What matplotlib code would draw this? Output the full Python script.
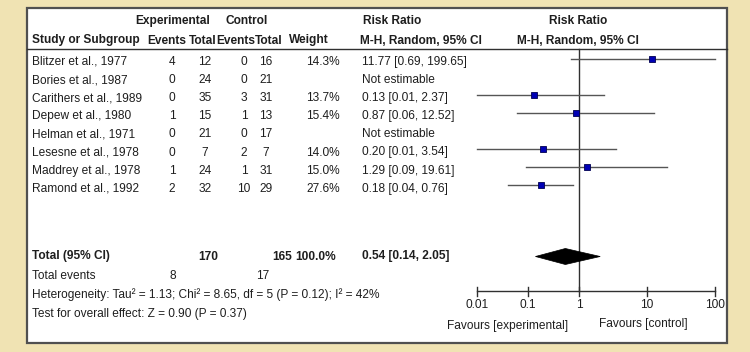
import numpy as np
import matplotlib
matplotlib.use("Agg")
import matplotlib.pyplot as plt
from matplotlib.patches import Rectangle, Polygon

# ---------------- data ----------------
studies = ["Blitzer et al., 1977", "Bories et al., 1987", "Carithers et al., 1989",
           "Depew et al., 1980", "Helman et al., 1971", "Lesesne et al., 1978",
           "Maddrey et al., 1978", "Ramond et al., 1992"]
exp_events = [4, 0, 0, 1, 0, 0, 1, 2]
exp_total = [12, 24, 35, 15, 21, 7, 24, 32]
ctl_events = [0, 0, 3, 1, 0, 2, 1, 10]
ctl_total = [16, 21, 31, 13, 17, 7, 31, 29]
weights = ["14.3%", "", "13.7%", "15.4%", "", "14.0%", "15.0%", "27.6%"]
rr = [11.77, np.nan, 0.13, 0.87, np.nan, 0.20, 1.29, 0.18]
rr_lo = [0.69, np.nan, 0.01, 0.06, np.nan, 0.01, 0.09, 0.04]
rr_hi = [199.65, np.nan, 2.37, 12.52, np.nan, 3.54, 19.61, 0.76]
total_exp, total_ctl, total_weight = 170, 165, "100.0%"
total_rr, total_lo, total_hi = 0.54, 0.14, 2.05
events_exp, events_ctl = 8, 17
heterogeneity = "Heterogeneity: Tau² = 1.13; Chi² = 8.65, df = 5 (P = 0.12); I² = 42%"
overall = "Test for overall effect: Z = 0.90 (P = 0.37)"
ticks = [0.01, 0.1, 1, 10, 100]
tick_labels = ["0.01", "0.1", "1", "10", "100"]

# ---------------- style ----------------
BG = "#F0E3B3"
TXT = "#1e1e1e"
FS = 8.6
plt.rcParams["font.family"] = ["Liberation Sans", "DejaVu Sans"]

# piecewise log scale (px per decade differs either side of 1)
L, R = 51.0, 68.0
def fwd(x):
    x = np.asarray(x, dtype=float)
    lx = np.log10(np.clip(x, 1e-300, None))
    return np.where(lx < 0, lx * L, lx * R)
def inv(y):
    y = np.asarray(y, dtype=float)
    return np.where(y < 0, 10 ** (y / L), 10 ** (y / R))

W, H = 750, 352
X_ONE = 579
fig = plt.figure(figsize=(W / 100, H / 100), dpi=100, facecolor=BG)
tax = fig.add_axes([0, 0, 1, 1])
tax.set_xlim(0, W); tax.set_ylim(H, 0); tax.axis("off")
fax = fig.add_axes([0, 0, 1, 1])
fax.set_xscale("function", functions=(fwd, inv))
fax.set_xlim(float(inv(-X_ONE)), float(inv(W - X_ONE)))
fax.set_ylim(H, 0); fax.axis("off"); fax.patch.set_alpha(0)

# white panel
tax.add_patch(Rectangle((27, 8), 700, 335, fc="white", ec="#505050", lw=1.6, zorder=0))

def t(x, y, s, ha="left", bold=False, size=FS, **kw):
    tax.text(x, y, s, ha=ha, va="center", fontsize=size, color=TXT,
             fontweight="bold" if bold else "normal", **kw)

# headers
t(173, 21, "Experimental", "center", True)
t(247, 21, "Control", "center", True)
t(392, 21, "Risk Ratio", "center", True)
t(578, 21, "Risk Ratio", "center", True)
t(32, 40.5, "Study or Subgroup", bold=True)
t(167, 40.5, "Events", "center", True)
t(203, 40.5, "Total", "center", True)
t(236, 40.5, "Events", "center", True)
t(269, 40.5, "Total", "center", True)
t(309, 40.5, "Weight", "center", True)
t(360, 40.5, "M-H, Random, 95% CI", bold=True)
t(578, 40.5, "M-H, Random, 95% CI", "center", True)
tax.plot([27, 727], [48.5, 48.5], color="#303030", lw=1.0)

# study rows
y0, dy = 62, 18.1
for i, name in enumerate(studies):
    y = y0 + i * dy
    t(32, y, name)
    t(172, y, str(exp_events[i]), "center")
    t(205, y, str(exp_total[i]), "center")
    t(244, y, str(ctl_events[i]), "center")
    t(266, y, str(ctl_total[i]), "center")
    t(323, y, weights[i], "center")
    if np.isnan(rr[i]):
        t(362, y, "Not estimable")
    else:
        t(362, y, f"{rr[i]:.2f} [{rr_lo[i]:.2f}, {rr_hi[i]:.2f}]")
        ym = y - 3.5
        fax.plot([rr_lo[i], min(rr_hi[i], ticks[-1])], [ym, ym], color="#555555", lw=1.0, zorder=2)
        fax.plot([rr[i]], [ym], marker="s", ms=4.2, mfc="#0000B4", mec="#000050", mew=0.6, zorder=3)

# totals
yt = 256.5
t(32, yt, "Total (95% CI)", bold=True)
t(208, yt, str(total_exp), "center", True)
t(282, yt, str(total_ctl), "center", True)
t(316, yt, total_weight, "center", True)
t(362, yt, f"{total_rr:.2f} [{total_lo:.2f}, {total_hi:.2f}]", bold=True)
fax.add_patch(Polygon([(total_lo, yt), (total_rr, yt - 8), (total_hi, yt), (total_rr, yt + 8)],
                      closed=True, fc="black", ec="black", lw=0.5, zorder=3))
t(32, 276, "Total events")
t(173, 276, str(events_exp), "center")
t(263, 276, str(events_ctl), "center")
t(32, 295, heterogeneity)
t(32, 313.5, overall)

# line of no effect and axis
y_ax = 291
fax.plot([1, 1], [49, y_ax], color="#303030", lw=1.0, zorder=1)
fax.plot([ticks[0], ticks[-1]], [y_ax, y_ax], color="#303030", lw=1.0)
for tk, lab in zip(ticks, tick_labels):
    fax.plot([tk, tk], [y_ax - 4.5, y_ax + 4.5], color="#303030", lw=1.0)
    fax.text(tk, 304.5, lab, ha="center", va="center", fontsize=FS, color=TXT)
t(508, 326, "Favours [experimental]", "center")
t(643, 323.5, "Favours [control]", "center")

fig.savefig("out.png", dpi=100, facecolor=BG)
